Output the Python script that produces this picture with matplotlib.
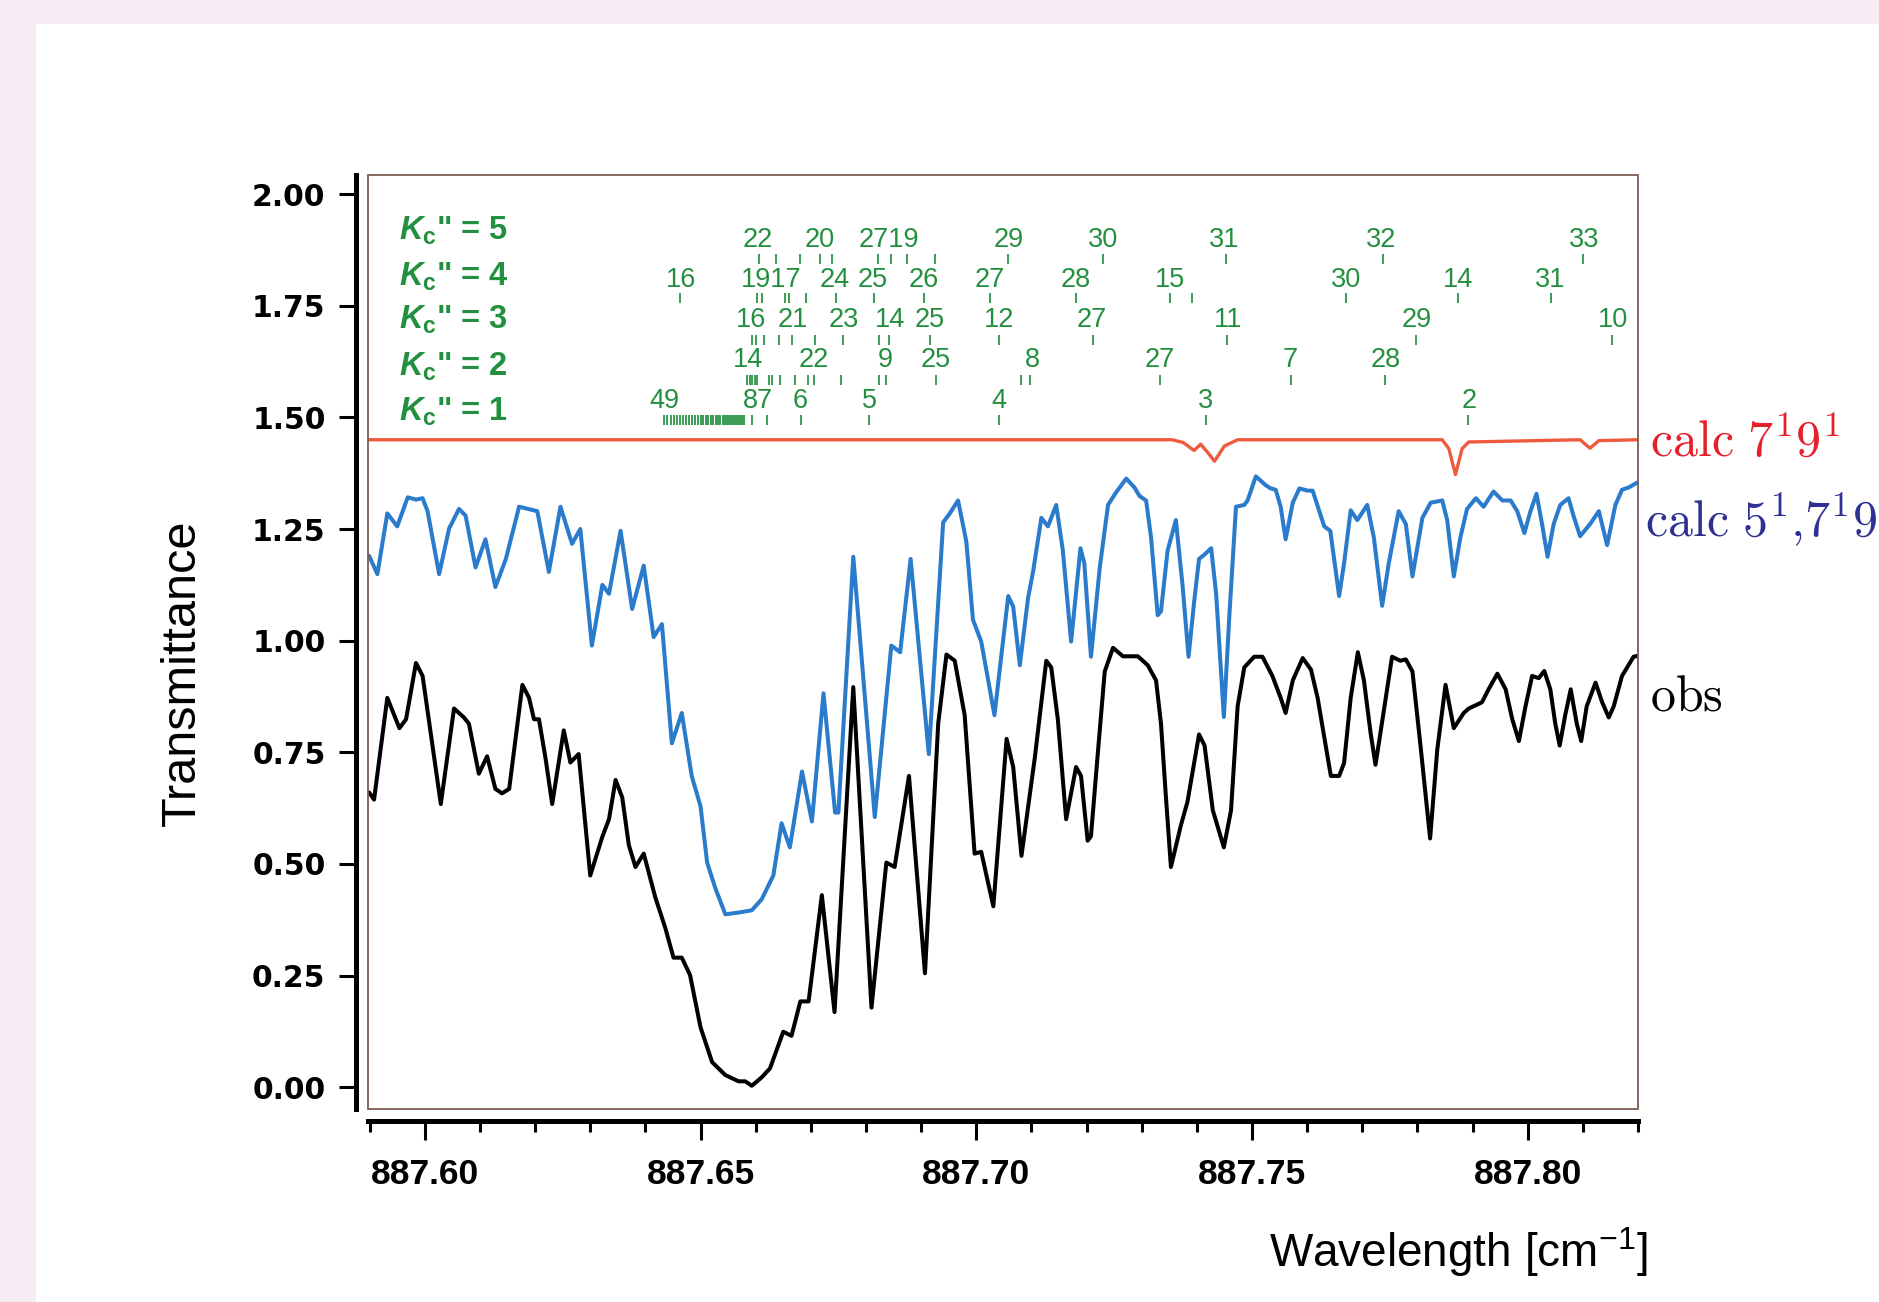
import matplotlib
matplotlib.use("Agg")
import matplotlib.pyplot as plt
from matplotlib.patches import Rectangle
from matplotlib.transforms import blended_transform_factory
from matplotlib.ticker import FormatStrFormatter

plt.rcParams['mathtext.fontset'] = 'custom'
plt.rcParams['mathtext.rm'] = 'Liberation Sans'
plt.rcParams['mathtext.bf'] = 'Liberation Sans:bold'
plt.rcParams['mathtext.it'] = 'Liberation Sans:italic:bold'

# ---------------- spectra ----------------
obs_wn = [887.5899, 887.5908, 887.5932, 887.5954, 887.5966, 887.5984, 887.5996, 887.6029, 887.6053, 887.6071,
          887.6080, 887.6098, 887.6113, 887.6128, 887.6140, 887.6153, 887.6177, 887.6189, 887.6198, 887.6207,
          887.6219, 887.6231, 887.6252, 887.6264, 887.6279, 887.6300, 887.6322, 887.6334, 887.6346, 887.6358,
          887.6370, 887.6382, 887.6397, 887.6418, 887.6436, 887.6451, 887.6466, 887.6481, 887.6500, 887.6521,
          887.6545, 887.6569, 887.6581, 887.6593, 887.6611, 887.6626, 887.6650, 887.6665, 887.6681, 887.6696,
          887.6720, 887.6743, 887.6777, 887.6810, 887.6837, 887.6852, 887.6878, 887.6907, 887.6931, 887.6946,
          887.6961, 887.6979, 887.6997, 887.7009, 887.7031, 887.7055, 887.7067, 887.7082, 887.7106, 887.7127,
          887.7136, 887.7148, 887.7163, 887.7181, 887.7190, 887.7202, 887.7208, 887.7221, 887.7233, 887.7248,
          887.7266, 887.7293, 887.7311, 887.7326, 887.7335, 887.7344, 887.7353, 887.7371, 887.7383, 887.7404,
          887.7414, 887.7429, 887.7449, 887.7462, 887.7474, 887.7486, 887.7504, 887.7519, 887.7537, 887.7552,
          887.7561, 887.7574, 887.7592, 887.7607, 887.7619, 887.7631, 887.7643, 887.7658, 887.7667, 887.7679,
          887.7692, 887.7703, 887.7715, 887.7724, 887.7733, 887.7754, 887.7769, 887.7779, 887.7791, 887.7806,
          887.7823, 887.7836, 887.7851, 887.7866, 887.7884, 887.7893, 887.7917, 887.7929, 887.7945, 887.7960,
          887.7972, 887.7984, 887.7996, 887.8008, 887.8020, 887.8030, 887.8041, 887.8050, 887.8058, 887.8068,
          887.8078, 887.8089, 887.8097, 887.8107, 887.8123, 887.8135, 887.8147, 887.8156, 887.8171, 887.8192,
          887.8200]
obs_tr = [0.660, 0.644, 0.872, 0.804, 0.824, 0.950, 0.921, 0.634, 0.848, 0.828,
          0.814, 0.702, 0.741, 0.668, 0.658, 0.668, 0.901, 0.872, 0.824, 0.824,
          0.736, 0.634, 0.799, 0.727, 0.746, 0.474, 0.561, 0.600, 0.688, 0.649,
          0.542, 0.493, 0.523, 0.425, 0.357, 0.290, 0.290, 0.251, 0.134, 0.056,
          0.027, 0.013, 0.013, 0.003, 0.022, 0.042, 0.124, 0.115, 0.192, 0.192,
          0.430, 0.168, 0.896, 0.178, 0.503, 0.493, 0.697, 0.255, 0.814, 0.969,
          0.955, 0.833, 0.523, 0.527, 0.405, 0.780, 0.717, 0.518, 0.736, 0.955,
          0.940, 0.823, 0.600, 0.717, 0.697, 0.552, 0.562, 0.756, 0.931, 0.984,
          0.965, 0.965, 0.945, 0.911, 0.814, 0.649, 0.493, 0.586, 0.639, 0.790,
          0.765, 0.620, 0.537, 0.620, 0.853, 0.940, 0.964, 0.964, 0.921, 0.872,
          0.838, 0.911, 0.961, 0.935, 0.872, 0.785, 0.697, 0.697, 0.726, 0.872,
          0.974, 0.911, 0.794, 0.722, 0.794, 0.964, 0.955, 0.958, 0.931, 0.760,
          0.557, 0.756, 0.901, 0.804, 0.838, 0.848, 0.862, 0.891, 0.926, 0.891,
          0.824, 0.775, 0.853, 0.921, 0.916, 0.932, 0.891, 0.814, 0.765, 0.833,
          0.891, 0.814, 0.775, 0.853, 0.906, 0.862, 0.828, 0.853, 0.921, 0.964,
          0.966]

calc57_wn = [887.5899, 887.5914, 887.5932, 887.5950, 887.5969, 887.5984, 887.5996, 887.6005, 887.6026, 887.6044,
             887.6062, 887.6074, 887.6092, 887.6110, 887.6128, 887.6147, 887.6171, 887.6204, 887.6225, 887.6246,
             887.6267, 887.6282, 887.6303, 887.6322, 887.6334, 887.6355, 887.6376, 887.6397, 887.6415, 887.6430,
             887.6448, 887.6466, 887.6484, 887.6500, 887.6512, 887.6527, 887.6545, 887.6569, 887.6593, 887.6611,
             887.6632, 887.6647, 887.6662, 887.6684, 887.6702, 887.6723, 887.6744, 887.6750, 887.6777, 887.6816,
             887.6846, 887.6862, 887.6881, 887.6914, 887.6940, 887.6952, 887.6967, 887.6982, 887.6994, 887.7009,
             887.7033, 887.7058, 887.7067, 887.7079, 887.7094, 887.7103, 887.7118, 887.7130, 887.7145, 887.7157,
             887.7172, 887.7189, 887.7196, 887.7208, 887.7224, 887.7239, 887.7254, 887.7272, 887.7287, 887.7296,
             887.7308, 887.7317, 887.7329, 887.7335, 887.7347, 887.7362, 887.7374, 887.7385, 887.7395, 887.7404,
             887.7414, 887.7426, 887.7435, 887.7449, 887.7459, 887.7471, 887.7486, 887.7492, 887.7507, 887.7525,
             887.7534, 887.7543, 887.7552, 887.7561, 887.7574, 887.7586, 887.7601, 887.7610, 887.7622, 887.7631,
             887.7642, 887.7650, 887.7658, 887.7667, 887.7679, 887.7691, 887.7709, 887.7721, 887.7736, 887.7748,
             887.7766, 887.7779, 887.7791, 887.7809, 887.7824, 887.7845, 887.7854, 887.7866, 887.7878, 887.7890,
             887.7906, 887.7920, 887.7938, 887.7954, 887.7969, 887.7981, 887.7994, 887.8005, 887.8016, 887.8026,
             887.8036, 887.8047, 887.8059, 887.8074, 887.8083, 887.8095, 887.8113, 887.8129, 887.8144, 887.8159,
             887.8171, 887.8183, 887.8200]
calc57_tr = [1.190, 1.149, 1.285, 1.256, 1.321, 1.316, 1.319, 1.290, 1.149, 1.251,
             1.295, 1.280, 1.164, 1.227, 1.120, 1.183, 1.300, 1.290, 1.154, 1.300,
             1.217, 1.250, 0.989, 1.125, 1.105, 1.246, 1.071, 1.168, 1.008, 1.037,
             0.770, 0.838, 0.697, 0.629, 0.503, 0.445, 0.387, 0.391, 0.396, 0.421,
             0.474, 0.591, 0.537, 0.707, 0.595, 0.882, 0.615, 0.615, 1.188, 0.605,
             0.989, 0.974, 1.183, 0.746, 1.265, 1.285, 1.314, 1.222, 1.047, 0.998,
             0.833, 1.100, 1.076, 0.945, 1.096, 1.154, 1.275, 1.256, 1.304, 1.202,
             0.998, 1.207, 1.173, 0.964, 1.164, 1.304, 1.333, 1.363, 1.343, 1.324,
             1.314, 1.231, 1.057, 1.066, 1.202, 1.270, 1.125, 0.964, 1.086, 1.183,
             1.193, 1.207, 1.105, 0.829, 1.057, 1.300, 1.304, 1.314, 1.368, 1.348,
             1.341, 1.338, 1.300, 1.227, 1.309, 1.341, 1.336, 1.336, 1.290, 1.256,
             1.246, 1.173, 1.100, 1.173, 1.292, 1.270, 1.304, 1.231, 1.078, 1.173,
             1.290, 1.261, 1.144, 1.275, 1.309, 1.314, 1.270, 1.144, 1.232, 1.295,
             1.319, 1.300, 1.334, 1.314, 1.314, 1.290, 1.241, 1.290, 1.329, 1.261,
             1.188, 1.261, 1.304, 1.319, 1.280, 1.234, 1.261, 1.290, 1.214, 1.304,
             1.338, 1.343, 1.355]

calc79_wn = [887.5899, 887.7355, 887.7375, 887.7395, 887.7407, 887.7420, 887.7432, 887.7450, 887.7474,
             887.7845, 887.7857, 887.7869, 887.7881, 887.7893, 887.8095, 887.8113, 887.8129, 887.8200]
calc79_tr = [1.450, 1.450, 1.444, 1.426, 1.440, 1.421, 1.402, 1.436, 1.450,
             1.450, 1.430, 1.372, 1.430, 1.445, 1.450, 1.431, 1.448, 1.450]

# ---------------- line assignments (Kc'' rows) ----------------
k5_labels = ["22", "20", "2719", "29", "30", "31", "32", "33"]
k5_label_wn = [887.6603, 887.6716, 887.6842, 887.7059, 887.7230, 887.7449, 887.7735, 887.8102]
k5_lines = [887.6606, 887.6636, 887.6680, 887.6716, 887.6739, 887.6822, 887.6846, 887.6874, 887.6925,
            887.7058, 887.7229, 887.7452, 887.7737, 887.8101]

k4_labels = ["16", "1917", "24", "25", "26", "27", "28", "15", "30", "14", "31"]
k4_label_wn = [887.6464, 887.6629, 887.6744, 887.6813, 887.6905, 887.7024, 887.7180, 887.7351, 887.7670,
               887.7874, 887.8041]
k4_lines = [887.6463, 887.6602, 887.6611, 887.6653, 887.6660, 887.6692, 887.6745, 887.6815, 887.6906,
            887.7025, 887.7180, 887.7351, 887.7391, 887.7670, 887.7873, 887.8043]

k3_labels = ["16", "21", "23", "14", "25", "12", "27", "11", "29", "10"]
k3_label_wn = [887.6592, 887.6668, 887.6759, 887.6844, 887.6915, 887.7041, 887.7210, 887.7456, 887.7798,
               887.8154]
k3_lines = [887.6594, 887.6601, 887.6615, 887.6642, 887.6666, 887.6708, 887.6759, 887.6824, 887.6842,
            887.6917, 887.7041, 887.7212, 887.7454, 887.7797, 887.8153]

k2_labels = ["14", "22", "9", "25", "8", "27", "7", "28"]
k2_label_wn = [887.6586, 887.6705, 887.6835, 887.6926, 887.7102, 887.7332, 887.7570, 887.7742]
k2_lines = [887.6584, 887.6589, 887.6594, 887.6598, 887.6603, 887.6624, 887.6629, 887.6645, 887.6672,
            887.6695, 887.6706, 887.6755, 887.6824, 887.6836, 887.6927, 887.7082, 887.7098, 887.7334,
            887.7570, 887.7741]

k1_labels = ["49", "87", "6", "5", "4", "3", "2"]
k1_label_wn = [887.6434, 887.6605, 887.6681, 887.6807, 887.7041, 887.7416, 887.7894]
k1_lines = [887.6434, 887.6440, 887.6446, 887.6452, 887.6458, 887.6463, 887.6469, 887.6474, 887.6480,
            887.6485, 887.6490, 887.6495, 887.6500, 887.6505, 887.6510, 887.6514, 887.6519, 887.6523,
            887.6528, 887.6532, 887.6536, 887.6540, 887.6544, 887.6548, 887.6551, 887.6555, 887.6558,
            887.6561, 887.6564, 887.6567, 887.6570, 887.6572, 887.6575, 887.6577, 887.6579,
            887.6594, 887.6621, 887.6682, 887.6805, 887.7042, 887.7416, 887.7892]

row_titles = ["5", "4", "3", "2", "1"]

# ---------------- axis ticks ----------------
y_ticks = [0.00, 0.25, 0.50, 0.75, 1.00, 1.25, 1.50, 1.75, 2.00]
x_major = [887.60, 887.65, 887.70, 887.75, 887.80]
x_minor = [887.59, 887.61, 887.62, 887.63, 887.64, 887.66, 887.67, 887.68, 887.69, 887.71, 887.72,
           887.73, 887.74, 887.76, 887.77, 887.78, 887.79, 887.81, 887.82]

# ---------------- figure ----------------
W, H = 1879, 1302
fig = plt.figure(figsize=(W / 100, H / 100), dpi=100, facecolor='#f7ecf4')
fig.patches.append(Rectangle((36 / W, 0), 1 - 36 / W, 1 - 24 / H, transform=fig.transFigure,
                             facecolor='white', edgecolor='none', zorder=-5))

ax = fig.add_axes([368 / W, 1 - 1109 / H, 1270 / W, 934 / H])
ax.set_zorder(1)
ax.set_facecolor('white')
ax.set_xlim(887.5897, 887.8200)
ax.set_ylim(-0.049, 2.043)

# spectra
line_kw = dict(solid_joinstyle='round', solid_capstyle='round', zorder=3)
ax.plot(obs_wn, obs_tr, color='black', lw=2.9, **line_kw)
ax.plot(calc57_wn, calc57_tr, color='#2a7bcc', lw=2.9, **line_kw)
ax.plot(calc79_wn, calc79_tr, color='#ef5a3c', lw=2.4, **line_kw)

# assignment rows
green = '#23903f'
tick_green = '#3c9c55'
rows = [
    (k5_labels, k5_label_wn, k5_lines, 1.897, 1.854),
    (k4_labels, k4_label_wn, k4_lines, 1.807, 1.767),
    (k3_labels, k3_label_wn, k3_lines, 1.718, 1.673),
    (k2_labels, k2_label_wn, k2_lines, 1.628, 1.583),
    (k1_labels, k1_label_wn, k1_lines, 1.537, 1.495),
]
for labels, lab_wn, lines, y_lab, y_tick in rows:
    for t, xw in zip(labels, lab_wn):
        ax.text(xw, y_lab, t, color=green, fontsize=19.5, ha='center', va='center',
                family='Liberation Sans', zorder=4)
    ax.vlines(lines, y_tick - 0.011, y_tick + 0.011, color=tick_green, lw=1.4, zorder=4)

row_title_y = [1.919, 1.815, 1.718, 1.613, 1.512]
for n, yy in zip(row_titles, row_title_y):
    ax.text(887.5954, yy, r'$\mathit{K}_{\mathbf{c}}$' + '" = ' + n, color=green, fontsize=23.5,
            fontweight='bold', family='Liberation Sans', ha='left', va='center',
            math_fontfamily='custom', zorder=4)

# frame and offset axes
for s in ('top', 'right'):
    ax.spines[s].set_visible(False)
ax.add_patch(Rectangle((0, 0), 1, 1, transform=ax.transAxes, fill=False,
                       edgecolor='#7b5a50', lw=1.3, clip_on=False, zorder=5))
for s in ('left', 'bottom'):
    ax.spines[s].set_position(('outward', 8.6))
    ax.spines[s].set_linewidth(3.6)
    ax.spines[s].set_color('black')

ax.set_yticks(y_ticks)
ax.yaxis.set_major_formatter(FormatStrFormatter('%.2f'))
ax.set_xticks(x_major)
ax.set_xticks(x_minor, minor=True)
ax.xaxis.set_major_formatter(FormatStrFormatter('%.2f'))
ax.tick_params(axis='y', which='major', direction='out', length=12, width=2.2, pad=10)
ax.tick_params(axis='x', which='major', direction='out', length=14, width=2.2, pad=13)
ax.tick_params(axis='x', which='minor', direction='out', length=8, width=2.2)
for lab in ax.get_yticklabels():
    lab.set_fontfamily('DejaVu Sans')
    lab.set_fontweight('bold')
    lab.set_fontsize(21.5)
for lab in ax.get_xticklabels():
    lab.set_fontfamily('Liberation Sans')
    lab.set_fontweight('bold')
    lab.set_fontsize(25.5)

# axis titles
fig.text(182 / W, 1 - 673 / H, 'Transmittance', rotation=90, ha='center', va='center',
         fontsize=35, family='Liberation Sans')
fig.text(1648 / W, 1 - 1252 / H, r'Wavelength [cm$^{-1}$]', ha='right', va='center',
         fontsize=33, family='Liberation Sans', math_fontfamily='custom')

# trace labels at the right edge
tr = blended_transform_factory(ax.transAxes, ax.transData)
ax.text(1.0094, 1.415, r'$\mathrm{calc}\ 7^{1}9^{1}$', transform=tr, color='#e5202a', fontsize=36,
        ha='left', va='baseline', math_fontfamily='cm', clip_on=False)
ax.text(1.0055, 1.235, r'$\mathrm{calc}\ 5^{1}{,}7^{1}9^{1}$', transform=tr, color='#2e3192', fontsize=36,
        ha='left', va='baseline', math_fontfamily='cm', clip_on=False)
ax.text(1.0094, 0.843, r'$\mathrm{obs}$', transform=tr, color='black', fontsize=36,
        ha='left', va='baseline', math_fontfamily='cm', clip_on=False)

fig.savefig('out.png', dpi=100, facecolor=fig.get_facecolor())
